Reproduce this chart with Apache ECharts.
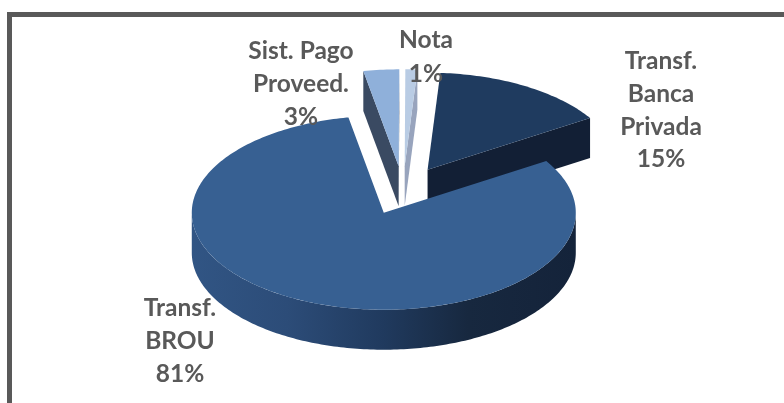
<!DOCTYPE html>
<html><head><meta charset="utf-8">
<style>html,body{margin:0;padding:0;background:#fff}#c{width:784px;height:403px}</style>
<script src="https://cdn.jsdelivr.net/npm/echarts@6/dist/echarts.min.js"></script>
</head><body><div id="c"></div>
<script>
const categories = ['Transf.\nBanca\nPrivada', 'Transf.\nBROU', 'Sist. Pago\nProveed.', 'Nota'];
const shares = [15, 81, 3, 1];
const topColors = ['#1f3b5f', '#376092', '#8fb0da', '#b9cce4'];
const faceColors = ['#121f35', '#1a2c48', '#3a4a62', '#98a4bd'];
const labelAnchors = [[661, 45], [180, 292], [301, 35], [426, 23]];
const layout = {cx: 403, cy: 190.5, rx: 192, ry: 97, depth: 40, explode: 0.25, start: 3.8};
const total = shares.reduce((a, b) => a + b, 0);
const cumulative = shares.map((_, i) => shares.slice(0, i).reduce((a, b) => a + b, 0));
const toAngle = v => echarts.number.linearMap(v, [0, total], [layout.start, layout.start + 360]);
const rad = d => d * Math.PI / 180;
function renderItem(params, api) {
  const i = params.dataIndex, v = api.value(0);
  const a = toAngle(cumulative[i]), b = toAngle(cumulative[i] + v), mid = (a + b) / 2;
  const L = layout;
  const ox = L.cx + L.explode * L.rx * Math.sin(rad(mid));
  const oy = L.cy - L.explode * L.ry * Math.cos(rad(mid));
  const rim = (t, d) => [ox + L.rx * Math.sin(rad(t)), oy - L.ry * Math.cos(rad(t)) + (d || 0)];
  const base = i === 1 ? 100 : 10 + i * 10;
  const kids = [];
  const top = [[ox, oy]];
  for (let t = a; t < b; t += 1) top.push(rim(t));
  top.push(rim(b));
  // radial end faces that look toward the viewer
  const face = t => {
    const p = rim(t);
    kids.push({type: 'polygon', z2: base, shape: {points: [[ox, oy], p, [p[0], p[1] + L.depth], [ox, oy + L.depth]]},
      style: {fill: faceColors[i]}});
  };
  if (Math.sin(rad(b)) > 0.001) face(b);
  if (Math.sin(rad(a)) < -0.001) face(a);
  // curved outer wall on the front half
  const w0 = Math.max(a, 90), w1 = Math.min(b, 270);
  if (w1 > w0) {
    const upper = [], lower = [];
    for (let t = w0; t <= w1; t += 1) { upper.push(rim(t)); lower.unshift(rim(t, L.depth)); }
    kids.push({type: 'polygon', z2: base + 1, shape: {points: upper.concat(lower)},
      style: {fill: {type: 'linear', x: 1, y: 0, x2: 0, y2: 0, colorStops: [
        {offset: 0, color: '#14233a'}, {offset: 0.28, color: '#17283f'}, {offset: 0.5, color: '#203a5e'},
        {offset: 0.75, color: '#2c4c78'}, {offset: 1, color: '#315584'}]}}});
  }
  kids.push({type: 'polygon', z2: base + 2, shape: {points: top}, style: {fill: topColors[i]}});
  const text = categories[i] + '\n' + v + '%';
  kids.push({type: 'text', z2: 300, x: labelAnchors[i][0], y: labelAnchors[i][1],
    style: {text, fill: '#595959', font: 'bold 24.5px Lato', lineHeight: i === 3 ? 34 : 32.7, align: 'center', verticalAlign: 'top'}});
  return {type: 'group', children: kids};
}
const chart = echarts.init(document.getElementById('c'), null, {renderer: 'canvas', width: 784, height: 403});
chart.setOption({
  animation: false,
  backgroundColor: '#ffffff',
  graphic: [{type: 'rect', silent: true, shape: {x: 9.5, y: 14.5, width: 900, height: 600},
    style: {fill: 'none', stroke: '#595959', lineWidth: 5}}],
  series: [{type: 'custom', coordinateSystem: 'none', renderItem, silent: true,
    data: shares.map(v => [v]), clip: false}]
});
</script></body></html>
